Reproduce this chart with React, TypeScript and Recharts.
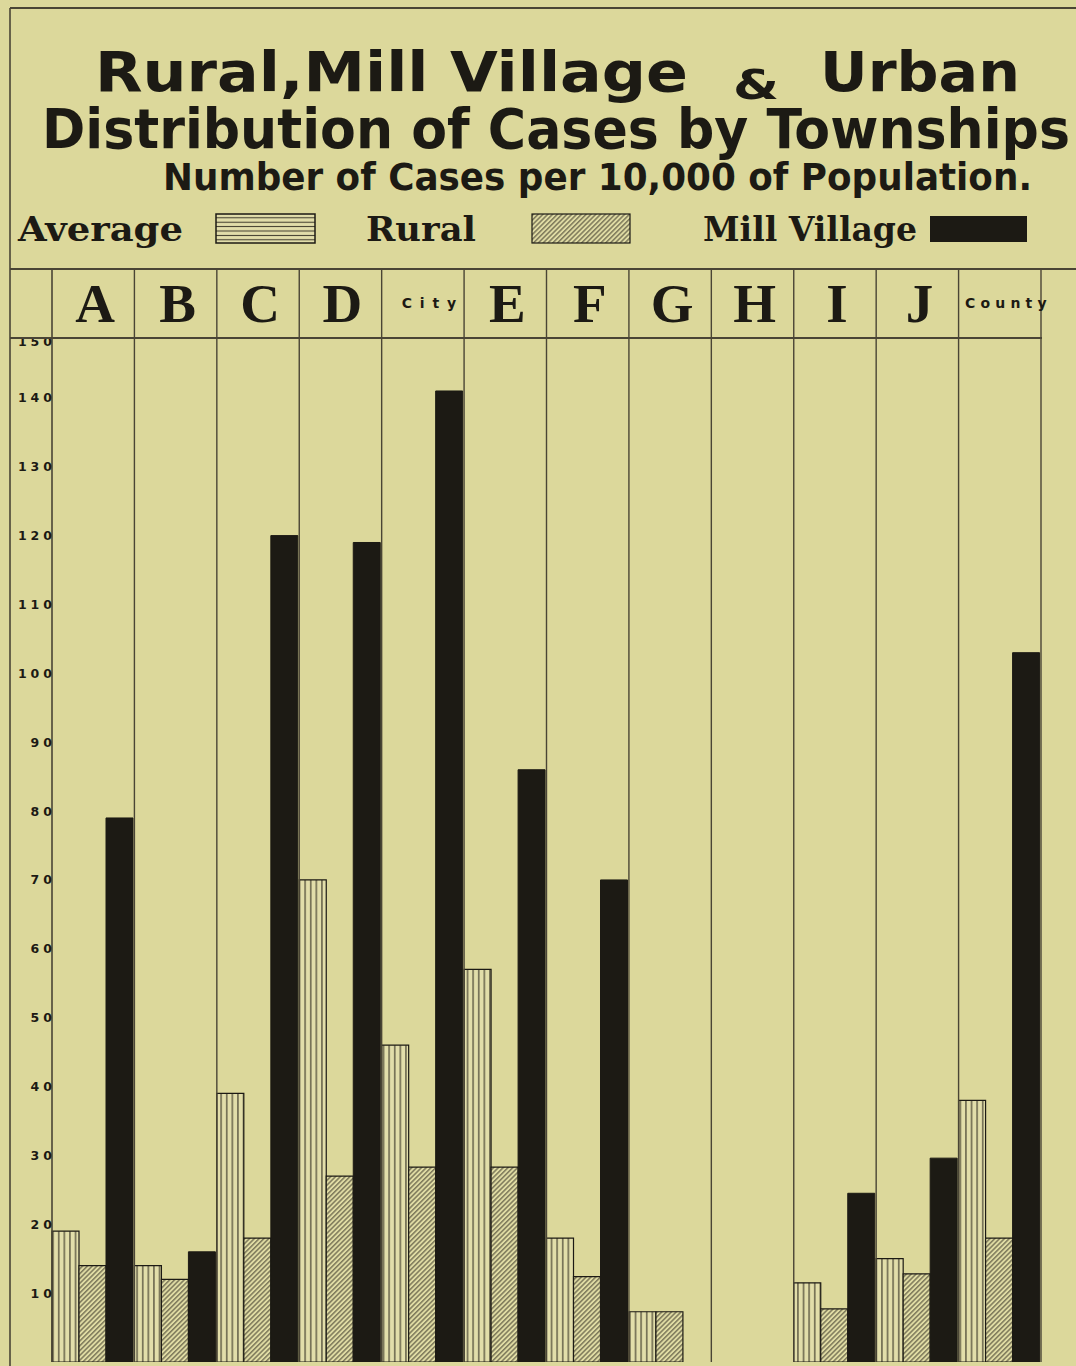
import React from 'react';
import { BarChart, Bar, XAxis, YAxis } from 'recharts';

// ---- data ----
const categories = ['A', 'B', 'C', 'D', 'City', 'E', 'F', 'G', 'H', 'I', 'J', 'County'];
const averageValues = [19, 14, 39, 70, 46, 57, 18, 7.3, null, 11.5, 15, 38];
const ruralValues = [14, 12, 18, 27, 28.3, 28.3, 12.4, 7.3, null, 7.7, 12.8, 18];
const millValues = [79, 16, 120, 119, 141, 86, 70, null, null, 24.5, 29.6, 103];
const yTicks = [0, 10, 20, 30, 40, 50, 60, 70, 80, 90, 100, 110, 120, 130, 140, 150];
const legendLabels = ['Average', 'Rural', 'Mill Village'];
const titleLine1a = 'Rural,Mill Village';
const titleLine1b = '&';
const titleLine1c = 'Urban';
const titleLine2 = 'Distribution of Cases by Townships';
const titleLine3 = 'Number of Cases per 10,000 of Population.';

const data = categories.map((name, i) => ({
  name,
  average: averageValues[i],
  rural: ruralValues[i],
  mill: millValues[i],
}));

// ---- layout ----
const W = 1076;
const H = 1366;
const MARGIN = { top: 268, right: 35, bottom: 4, left: 10 };
const X_AXIS_H = 61;
const Y_AXIS_W = 42;
const PLOT_LEFT = MARGIN.left + Y_AXIS_W;
const PLOT_W = W - PLOT_LEFT - MARGIN.right;
const COL_W = PLOT_W / categories.length;
const HEADER_TOP = 269;
const HEADER_BOTTOM = 338;
const PLOT_BOTTOM = H - MARGIN.bottom;

const PAPER = '#dcd89b';
const INK = '#1c1a14';
const LINE = '#4a4535';
const HATCH = '#3a3628';

const TITLE_FONT = "'DejaVu Sans Condensed', 'Liberation Sans Narrow', 'Roboto Condensed', 'DejaVu Sans', sans-serif";
const SERIF = "'Liberation Serif', 'DejaVu Serif', serif";
const LEGEND_FONT = "'DejaVu Serif', 'Liberation Serif', serif";
const SANS = "'DejaVu Sans', 'Liberation Sans', sans-serif";

const XTick = (props: any) => {
  const { x, payload, index } = props;
  const label = String(payload.value);
  const small = label.length > 1;
  return (
    <g>
      {index === 0 && (
        <line x1={x - COL_W / 2} x2={x - COL_W / 2} y1={HEADER_TOP} y2={PLOT_BOTTOM} stroke={LINE} strokeWidth={1.6} />
      )}
      <line x1={x + COL_W / 2} x2={x + COL_W / 2} y1={HEADER_TOP} y2={PLOT_BOTTOM} stroke={LINE} strokeWidth={1.4} />
      {small ? (
        <text
          x={x + 6}
          y={308}
          textAnchor="middle"
          fontFamily={SANS}
          fontWeight={900}
          fontSize={14}
          fill={INK}
          textLength={label.length * 13.6}
          lengthAdjust="spacing"
        >
          {label}
        </text>
      ) : (
        <text x={x + 2} y={322} textAnchor="middle" fontFamily={SERIF} fontWeight={700} fontSize={55} fill={INK}>
          {label}
        </text>
      )}
    </g>
  );
};

const YTick = (props: any) => {
  const { y, payload } = props;
  const v = payload.value;
  const yy = v === 150 ? y + 12 : y;
  return (
    <text
      x={PLOT_LEFT + 4}
      y={yy}
      dy={4.5}
      textAnchor="end"
      fontFamily={SANS}
      fontWeight={900}
      fontSize={12.5}
      letterSpacing={4}
      fill={INK}
    >
      {String(v)}
    </text>
  );
};

export default function App() {
  return (
    <div
      style={{
        position: 'absolute',
        left: 0,
        top: 0,
        width: W,
        height: H,
        background: PAPER,
        overflow: 'hidden',
      }}
    >
      <svg width={W} height={H} style={{ position: 'absolute', left: 0, top: 0 }}>
        <defs>
          <pattern id="avgV" patternUnits="userSpaceOnUse" width={5.6} height={8}>
            <rect width={5.6} height={8} fill="#e2deaa" />
            <rect x={2.2} width={1.1} height={8} fill={HATCH} />
          </pattern>
          <pattern id="avgH" patternUnits="userSpaceOnUse" width={8} height={4.4}>
            <rect width={8} height={4.4} fill="#e2deaa" />
            <rect y={1.7} width={8} height={1} fill={HATCH} />
          </pattern>
          <pattern id="ruralD" patternUnits="userSpaceOnUse" width={3.4} height={10} patternTransform="rotate(45)">
            <rect width={3.4} height={10} fill="#e0dca4" />
            <rect x={1.2} width={0.9} height={10} fill={HATCH} />
          </pattern>
        </defs>
      </svg>
      <div style={{ position: 'absolute', left: 0, top: 0 }}>
        <BarChart
          width={W}
          height={H}
          data={data}
          margin={MARGIN}
          barCategoryGap={0}
          barGap={0}
        >
          <XAxis
            dataKey="name"
            orientation="top"
            height={X_AXIS_H}
            interval={0}
            axisLine={false}
            tickLine={false}
            tick={<XTick />}
          />
          <YAxis
            type="number"
            domain={[0, 150]}
            ticks={yTicks}
            width={Y_AXIS_W}
            axisLine={false}
            tickLine={false}
            tick={<YTick />}
            allowDataOverflow
          />
          <Bar dataKey="average" fill="url(#avgV)" stroke={INK} strokeWidth={1.2} isAnimationActive={false} />
          <Bar dataKey="rural" fill="url(#ruralD)" stroke={INK} strokeWidth={1.2} isAnimationActive={false} />
          <Bar dataKey="mill" fill={INK} stroke={INK} strokeWidth={1} isAnimationActive={false} />
        </BarChart>
      </div>
      <svg width={W} height={H} style={{ position: 'absolute', left: 0, top: 0, pointerEvents: 'none' }}>
        {/* frame */}
        <line x1={10} x2={W} y1={8} y2={8} stroke={LINE} strokeWidth={2} />
        <line x1={10} x2={10} y1={8} y2={H} stroke={LINE} strokeWidth={1.6} />
        {/* header rules */}
        <line x1={10} x2={W} y1={HEADER_TOP} y2={HEADER_TOP} stroke={LINE} strokeWidth={2} />
        <line x1={10} x2={PLOT_LEFT + PLOT_W + 1} y1={HEADER_BOTTOM} y2={HEADER_BOTTOM} stroke={LINE} strokeWidth={2} />
        {/* title */}
        <text x={95} y={91} fontFamily={TITLE_FONT} fontWeight={700} fontSize={55} fill={INK} textLength={593} lengthAdjust="spacingAndGlyphs">
          {titleLine1a}
        </text>
        <text x={733} y={99} fontFamily={TITLE_FONT} fontWeight={700} fontSize={40} fill={INK} textLength={46} lengthAdjust="spacingAndGlyphs">
          {titleLine1b}
        </text>
        <text x={820} y={91} fontFamily={TITLE_FONT} fontWeight={700} fontSize={55} fill={INK} textLength={200} lengthAdjust="spacingAndGlyphs">
          {titleLine1c}
        </text>
        <text x={42} y={148} fontFamily={TITLE_FONT} fontWeight={700} fontSize={55} fill={INK} textLength={1028} lengthAdjust="spacingAndGlyphs">
          {titleLine2}
        </text>
        <text x={163} y={190} fontFamily={TITLE_FONT} fontWeight={700} fontSize={37} fill={INK} textLength={869} lengthAdjust="spacingAndGlyphs">
          {titleLine3}
        </text>
        {/* legend */}
        <text x={18} y={241} fontFamily={LEGEND_FONT} fontWeight={700} fontSize={33} fill={INK} textLength={165} lengthAdjust="spacingAndGlyphs">
          {legendLabels[0]}
        </text>
        <rect x={216} y={214} width={99} height={29} fill="url(#avgH)" stroke={INK} strokeWidth={1.5} />
        <text x={366} y={241} fontFamily={LEGEND_FONT} fontWeight={700} fontSize={33} fill={INK} textLength={110} lengthAdjust="spacingAndGlyphs">
          {legendLabels[1]}
        </text>
        <rect x={532} y={214} width={98} height={29} fill="url(#ruralD)" stroke={INK} strokeWidth={1.2} />
        <text x={703} y={241} fontFamily={LEGEND_FONT} fontWeight={700} fontSize={33} fill={INK} textLength={214} lengthAdjust="spacingAndGlyphs">
          {legendLabels[2]}
        </text>
        <rect x={930} y={216} width={97} height={26} fill={INK} />
      </svg>
    </div>
  );
}
